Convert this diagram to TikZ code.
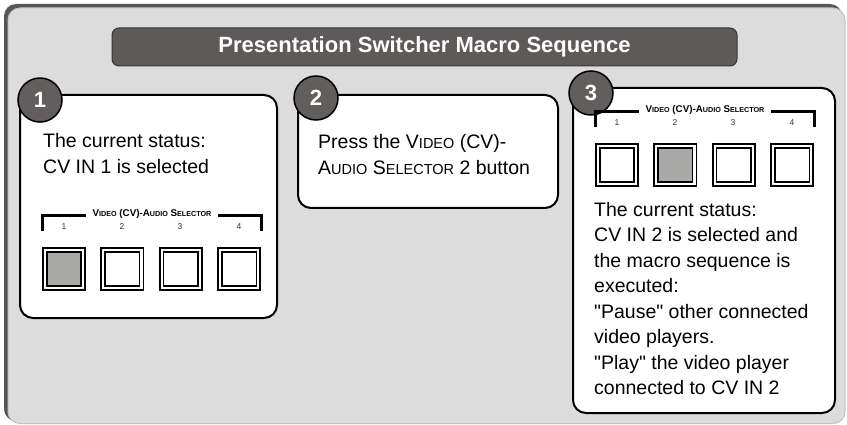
\documentclass[tikz,border=0pt]{standalone}
\usepackage{fontspec}
\setmainfont{Liberation Sans}[Ligatures=TeXOff]
\definecolor{framefill}{HTML}{DCDCDC}
\definecolor{framedark}{HTML}{5A5555}
\definecolor{frameedge}{HTML}{C2C2C2}
\definecolor{titlefill}{HTML}{5E5A59}
\definecolor{titleedge}{HTML}{3A3636}
\definecolor{circfill}{HTML}{625E5D}
\definecolor{btngray}{HTML}{A9A9A7}
\definecolor{numgray}{HTML}{333333}
\newcommand\sca[1]{{\fontsize{14.5}{14.5}\selectfont #1}}
\newcommand\lsc[1]{{\fontsize{7.2}{7.2}\selectfont #1}}
\tikzset{
  panel/.style={draw=black, line width=2pt, fill=white, rounded corners=13pt, inner sep=0pt},
  stepnum/.style={circle, draw=black, line width=1.5pt, fill=circfill, minimum size=44pt, inner sep=0pt,
    text=white, font=\fontsize{22}{22}\selectfont\bfseries},
  titlebox/.style={draw=titleedge, line width=1pt, fill=titlefill, rounded corners=7pt,
    minimum width=625pt, minimum height=38pt, inner sep=0pt, text=white,
    font=\fontsize{22}{22}\selectfont\bfseries},
  desc/.style={align=left, inner sep=0pt, anchor=north west, font=\fontsize{19.5}{26}\selectfont},
  bracket/.style={line width=3pt, line cap=butt},
  sellabel/.style={fill=white, inner xsep=7pt, inner ysep=1pt, font=\fontsize{9.8}{9.8}\selectfont\bfseries},
  selnum/.style={inner sep=0pt, text=numgray, font=\fontsize{8.5}{8.5}\selectfont},
  btnouter/.style={draw=black, line width=1.8pt, fill=white},
  btninner/.style={draw=black, line width=1.5pt},
  pics/selector/.style={code={
    \draw[bracket] (0,15) -- (0,0) -- (219.2,0) -- (219.2,15);
    \node[sellabel] (-lab) at (110,-2) {V\lsc{IDEO} (CV)-A\lsc{UDIO} S\lsc{ELECTOR}};
    \foreach \i/\x in {1/22,2/80,3/138,4/197}{
      \node[selnum] (-n\i) at (\x,11) {\i};
    }
    \foreach \i in {1,...,4}{
      \pgfmathsetmacro\bx{58.4*(\i-1)}
      \draw[btnouter] (\bx+0.9,31.9) rectangle (\bx+43.1,74.1);
      \draw[btninner, fill=white] (\bx+4.8,35.8) rectangle (\bx+39.2,70.2);
    }
    \pgfmathsetmacro\gx{58.4*(#1-1)}
    \draw[btninner, fill=btngray] (\gx+4.8,35.8) rectangle (\gx+39.2,70.2);
  }}
}
\begin{document}
\begin{tikzpicture}[x=1pt,y=-1pt]
\useasboundingbox (0,0) rectangle (847,425);
% outer frame
\fill[framedark, rounded corners=12pt] (4,4) rectangle (842,421);
\filldraw[fill=framefill, draw=frameedge, line width=1pt, rounded corners=12pt] (8,8) rectangle (845,423.5);
% title
\node[titlebox] (title) at (424.5,47) {Presentation Switcher Macro Sequence};
% panels
\node[panel, minimum width=257pt, minimum height=223pt] (p1) at (148.5,206.5) {};
\node[panel, minimum width=260pt, minimum height=113pt] (p2) at (428,151.5) {};
\node[panel, minimum width=262pt, minimum height=325pt] (p3) at (704,250.5) {};
% step circles
\node[stepnum] (c1) at (40,100) {1};
\node[stepnum] (c2) at (316,98) {2};
\node[stepnum] (c3) at (591,93) {3};
% panel 1
\node[desc] (t1) at (43,133) {The current status:\\CV IN 1 is selected};
\pic (s1) at (42,216) {selector=1};
% panel 2
\node[desc] (t2) at (318,134) {Press the V\sca{IDEO} (CV)-\\A\sca{UDIO} S\sca{ELECTOR} 2 button};
% panel 3
\pic (s3) at (595,112) {selector=2};
\node[desc, font=\fontsize{19.5}{25.5}\selectfont] (t3) at (594,202) {The current status:\\CV IN 2 is selected and\\the macro sequence is\\executed:\\"Pause" other connected\\video players.\\"Play" the video player\\connected to CV IN 2};
\end{tikzpicture}
\end{document}
